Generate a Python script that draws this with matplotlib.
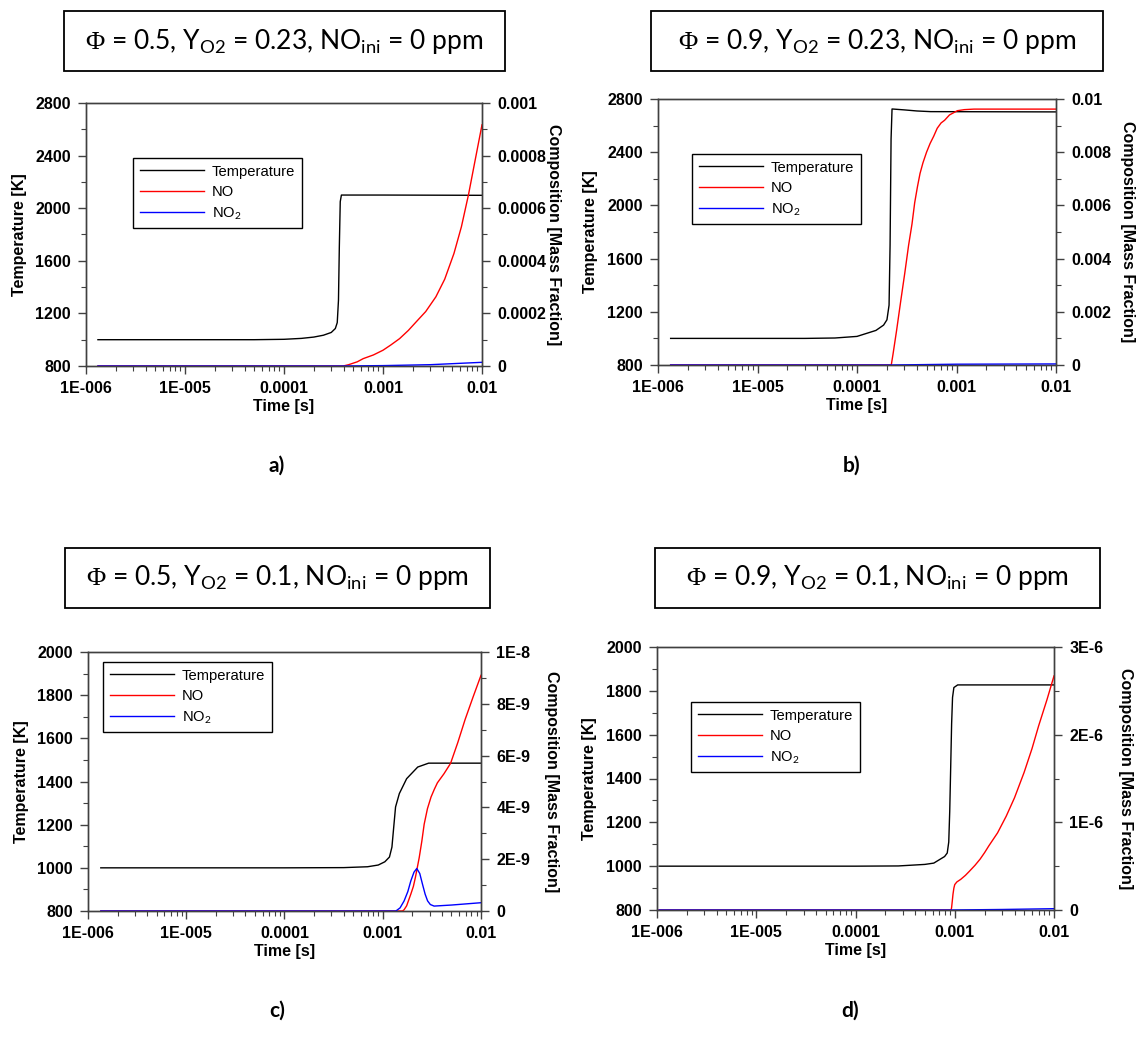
import matplotlib
matplotlib.use('Agg')
import matplotlib.pyplot as plt
from matplotlib.patches import Rectangle
from matplotlib.lines import Line2D
from matplotlib.ticker import NullFormatter, MultipleLocator, LogLocator

plt.rcParams['font.family'] = ['Liberation Sans', 'DejaVu Sans']
plt.rcParams['mathtext.fontset'] = 'custom'
plt.rcParams['mathtext.rm'] = 'Liberation Serif'
plt.rcParams['mathtext.sf'] = 'Lato'

# --- dane ---
time_ticks = [1e-6, 1e-5, 1e-4, 1e-3, 1e-2]
time_labels = ['1E-006', '1E-005', '0.0001', '0.001', '0.01']

titles = [r'$\Phi$ = 0.5, Y$_{\mathsf{O2}}$ = 0.23, NO$_{\mathsf{ini}}$ = 0 ppm',
          r'$\Phi$ = 0.9, Y$_{\mathsf{O2}}$ = 0.23, NO$_{\mathsf{ini}}$ = 0 ppm',
          r'$\Phi$ = 0.5, Y$_{\mathsf{O2}}$ = 0.1, NO$_{\mathsf{ini}}$ = 0 ppm',
          r'$\Phi$ = 0.9, Y$_{\mathsf{O2}}$ = 0.1, NO$_{\mathsf{ini}}$ = 0 ppm']
tags = ['a)', 'b)', 'c)', 'd)']
legend_labels = ['Temperature', 'NO', r'NO$_{\mathsf{2}}$']

# a) phi 0.5, YO2 0.23
a_T_t = [1.32e-6, 1e-5, 5e-5, 1e-4, 1.5e-4, 2e-4, 2.5e-4, 3e-4, 3.3e-4, 3.45e-4, 3.55e-4, 3.62e-4, 3.7e-4, 3.8e-4, 1e-3, 1e-2]
a_T = [1000, 1000, 1000, 1003, 1010, 1020, 1034, 1055, 1085, 1130, 1300, 1700, 2050, 2100, 2100, 2098]
a_NO_t = [1.32e-6, 3.96e-4, 4.5e-4, 5.5e-4, 6.31e-4, 8e-4, 1e-3, 1.2e-3, 1.47e-3, 1.8e-3, 2.24e-3, 2.7e-3,
          3.42e-3, 4.2e-3, 5.21e-3, 6.2e-3, 7.31e-3, 8.5e-3, 1e-2]
a_NO = [0, 0, 0.000005, 0.000016, 0.000028, 0.000042, 0.00006, 0.00008, 0.000104, 0.000135, 0.000174, 0.000207,
        0.000263, 0.00033, 0.000428, 0.00053, 0.000652, 0.00078, 0.000917]
a_NO2_t = [1.32e-6, 3.8e-4, 1e-3, 3e-3, 1e-2]
a_NO2 = [0, 0, 0.0000015, 0.000005, 0.000014]

# b) phi 0.9, YO2 0.23
b_T_t = [1.34e-6, 3e-5, 6e-5, 1e-4, 1.55e-4, 1.85e-4, 2e-4, 2.1e-4, 2.15e-4, 2.2e-4, 2.25e-4, 3e-4, 4e-4, 5.5e-4, 1e-2]
b_T = [1000, 1000, 1003, 1015, 1060, 1100, 1140, 1250, 1700, 2500, 2725, 2718, 2710, 2705, 2703]
b_NO_t = [1.34e-6, 2.21e-4, 2.3e-4, 2.5e-4, 2.75e-4, 3.02e-4, 3.3e-4, 3.57e-4, 3.8e-4, 4.05e-4, 4.3e-4, 4.6e-4,
          5e-4, 5.43e-4, 5.9e-4, 6.4e-4, 7e-4, 7.59e-4, 8.5e-4, 1.02e-3, 1.2e-3, 1.5e-3, 1e-2]
b_NO = [0, 0, 0.0004, 0.0013, 0.0024, 0.00345, 0.0045, 0.0053, 0.0061, 0.0067, 0.0072, 0.0076,
        0.0080, 0.00833, 0.0086, 0.0089, 0.0091, 0.0092, 0.0094, 0.00956, 0.0096, 0.00962, 0.00962]
b_NO2_t = [1.34e-6, 2.2e-4, 1e-3, 1e-2]
b_NO2 = [0, 0, 0.00003, 0.00004]

# c) phi 0.5, YO2 0.1
c_T_t = [1.35e-6, 1e-4, 4e-4, 7e-4, 9e-4, 1.05e-3, 1.17e-3, 1.24e-3, 1.3e-3, 1.35e-3, 1.475e-3, 1.75e-3, 2.27e-3, 2.93e-3, 1e-2]
c_T = [1000, 1000, 1001, 1005, 1013, 1028, 1050, 1096, 1200, 1282, 1344, 1413, 1467, 1485, 1485]
c_NO_t = [1.35e-6, 1.59e-3, 1.65e-3, 1.75e-3, 1.93e-3, 2.05e-3, 2.15e-3, 2.35e-3, 2.5e-3, 2.64e-3, 2.85e-3,
          3.1e-3, 3.35e-3, 3.6e-3, 4.2e-3, 4.9e-3, 5.8e-3, 6.9e-3, 8.3e-3, 1e-2]
c_NO = [0, 0, 0.05e-9, 0.2e-9, 0.65e-9, 0.95e-9, 1.3e-9, 2.06e-9, 2.7e-9, 3.35e-9, 3.95e-9,
        4.4e-9, 4.7e-9, 4.95e-9, 5.3e-9, 5.7e-9, 6.5e-9, 7.4e-9, 8.26e-9, 9.1e-9]
c_NO2_t = [1.35e-6, 1.36e-3, 1.5e-3, 1.65e-3, 1.8e-3, 1.93e-3, 2.08e-3, 2.22e-3, 2.38e-3, 2.54e-3, 2.7e-3, 2.86e-3, 3.05e-3, 3.33e-3, 5e-3, 1e-2]
c_NO2 = [0, 0, 0.12e-9, 0.39e-9, 0.75e-9, 1.16e-9, 1.5e-9, 1.64e-9, 1.45e-9, 1.03e-9, 0.65e-9, 0.39e-9, 0.25e-9, 0.19e-9, 0.23e-9, 0.32e-9]

# d) phi 0.9, YO2 0.1
d_T_t = [1.05e-6, 1e-4, 2.7e-4, 5e-4, 6.15e-4, 7.9e-4, 8.4e-4, 8.7e-4, 8.9e-4, 9.1e-4, 9.3e-4, 9.5e-4, 9.8e-4, 1.07e-3, 1e-2]
d_T = [1000, 1000, 1001, 1008, 1014, 1044, 1060, 1110, 1250, 1450, 1650, 1770, 1815, 1827, 1827]
d_NO_t = [1.05e-6, 9.2e-4, 9.3e-4, 9.4e-4, 9.5e-4, 9.6e-4, 9.8e-4, 1.0e-3, 1.05e-3, 1.15e-3, 1.28e-3, 1.4e-3,
          1.6e-3, 1.8e-3, 2.0e-3, 2.2e-3, 2.7e-3, 3.3e-3, 4.0e-3, 5e-3, 6e-3, 7e-3, 8.5e-3, 1e-2]
d_NO = [0, 0, 0.03e-6, 0.08e-6, 0.13e-6, 0.18e-6, 0.25e-6, 0.29e-6, 0.32e-6, 0.35e-6, 0.395e-6, 0.44e-6,
        0.51e-6, 0.58e-6, 0.655e-6, 0.73e-6, 0.88e-6, 1.07e-6, 1.28e-6, 1.57e-6, 1.84e-6, 2.1e-6, 2.4e-6, 2.67e-6]
d_NO2_t = [1.05e-6, 9.2e-4, 3e-3, 1e-2]
d_NO2 = [0, 0, 0.006e-6, 0.015e-6]

# osie prawe (sklad)
a_comp_ticks = [0, 0.0002, 0.0004, 0.0006, 0.0008, 0.001]
a_comp_labels = ['0', '0.0002', '0.0004', '0.0006', '0.0008', '0.001']
b_comp_ticks = [0, 0.002, 0.004, 0.006, 0.008, 0.01]
b_comp_labels = ['0', '0.002', '0.004', '0.006', '0.008', '0.01']
c_comp_ticks = [0, 2e-9, 4e-9, 6e-9, 8e-9, 1e-8]
c_comp_labels = ['0', '2E-9', '4E-9', '6E-9', '8E-9', '1E-8']
d_comp_ticks = [0, 1e-6, 2e-6, 3e-6]
d_comp_labels = ['0', '1E-6', '2E-6', '3E-6']

temp_ticks_top = [800, 1200, 1600, 2000, 2400, 2800]
temp_ticks_bot = [800, 1000, 1200, 1400, 1600, 1800, 2000]

W, H = 1137, 1054
fig = plt.figure(figsize=(W / 100, H / 100), dpi=100)


def rect_px(x0, x1, y0, y1):
    return [x0 / W, 1 - y1 / H, (x1 - x0) / W, (y1 - y0) / H]


def panel(ax_px, box_px, leg_px, tag_px, title, tag, T_t, T, NO_t, NO, NO2_t, NO2,
          t_ticks, t_minor, c_ticks, c_labels, c_minor):
    ax = fig.add_axes(rect_px(*ax_px))
    ax2 = ax.twinx()
    ax.plot(T_t, T, color='black', lw=1)
    ax2.plot(NO_t, NO, color='red', lw=1)
    ax2.plot(NO2_t, NO2, color='blue', lw=1)

    ax.set_xscale('log')
    ax.set_xlim(1e-6, 1e-2)
    ax.set_xticks(time_ticks, time_labels)
    ax.xaxis.set_minor_locator(LogLocator(base=10, subs=range(2, 10)))
    ax.xaxis.set_minor_formatter(NullFormatter())
    ax.set_ylim(t_ticks[0], t_ticks[-1])
    ax.set_yticks(t_ticks)
    ax.yaxis.set_minor_locator(MultipleLocator(t_minor))
    ax2.set_ylim(c_ticks[0], c_ticks[-1])
    ax2.set_yticks(c_ticks, c_labels)
    ax2.yaxis.set_minor_locator(MultipleLocator(c_minor))

    for a in (ax, ax2):
        a.tick_params(which='major', direction='out', length=6, width=1, pad=5,
                      labelsize=11.5, color='#404040')
        a.tick_params(which='minor', direction='out', length=3.5, width=0.8, color='#404040')
        for lab in a.get_xticklabels() + a.get_yticklabels():
            lab.set_fontweight('bold')
        for s in a.spines.values():
            s.set_color('#404040')
            s.set_linewidth(1)

    ax.set_xlabel('Time [s]', fontsize=11.5, fontweight='bold', labelpad=2)
    ax.set_ylabel('Temperature [K]', fontsize=11.5, fontweight='bold')
    ax.yaxis.set_label_coords(-0.15, 0.5)
    ax2.set_ylabel('Composition [Mass Fraction]', fontsize=11.5, fontweight='bold',
                   rotation=270, va='center')
    ax2.yaxis.set_label_coords(1.18, 0.5)

    handles = [Line2D([], [], color='black', lw=1), Line2D([], [], color='red', lw=1),
               Line2D([], [], color='blue', lw=1)]
    leg = ax2.legend(handles, legend_labels, loc='upper left',
                     bbox_to_anchor=(leg_px[0] / W, 1 - leg_px[1] / H),
                     bbox_transform=fig.transFigure, fancybox=False, framealpha=1,
                     edgecolor='black', borderaxespad=0, borderpad=0.45,
                     handlelength=4.4, handletextpad=0.5, labelspacing=0.42,
                     prop={'size': 10.6})
    leg.get_frame().set_linewidth(1)

    # ramka z tytulem
    bx0, bx1, by0, by1 = box_px
    fig.patches.append(Rectangle((bx0 / W, 1 - by1 / H), (bx1 - bx0) / W, (by1 - by0) / H,
                                 transform=fig.transFigure, fill=False, edgecolor='black',
                                 lw=1.3))
    fig.text((bx0 + bx1) / 2 / W, 1 - (by0 + by1) / 2 / H, title, family='Lato',
             fontsize=19, ha='center', va='center')
    fig.text(tag_px[0] / W, 1 - tag_px[1] / H, tag, family='Lato', fontweight='bold',
             fontsize=15, ha='center', va='center')


panel((86, 482, 103, 366), (64, 505, 11, 71), (133, 158), (277, 466), titles[0], tags[0],
      a_T_t, a_T, a_NO_t, a_NO, a_NO2_t, a_NO2, temp_ticks_top, 200,
      a_comp_ticks, a_comp_labels, 0.0001)
panel((658, 1056, 99, 365), (651, 1103, 11, 71), (692, 154), (852, 466), titles[1], tags[1],
      b_T_t, b_T, b_NO_t, b_NO, b_NO2_t, b_NO2, temp_ticks_top, 200,
      b_comp_ticks, b_comp_labels, 0.001)
panel((88, 481, 652, 911), (65, 490, 548, 608), (103, 662), (277, 1011), titles[2], tags[2],
      c_T_t, c_T, c_NO_t, c_NO, c_NO2_t, c_NO2, temp_ticks_bot, 100,
      c_comp_ticks, c_comp_labels, 1e-9)
panel((657, 1054, 647, 910), (655, 1100, 548, 608), (691, 702), (850, 1011), titles[3], tags[3],
      d_T_t, d_T, d_NO_t, d_NO, d_NO2_t, d_NO2, temp_ticks_bot, 100,
      d_comp_ticks, d_comp_labels, 0.5e-6)

plt.savefig('out.png', dpi=100)
